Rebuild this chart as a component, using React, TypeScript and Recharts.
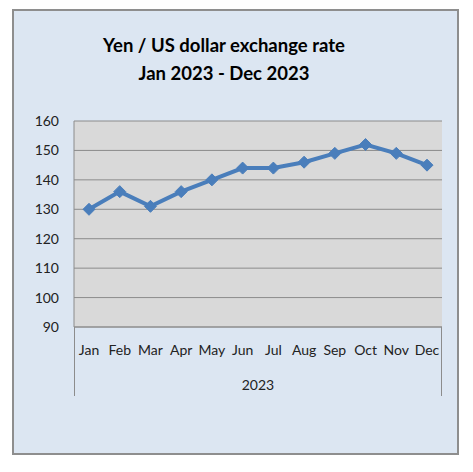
import React from "react";
import { LineChart, Line, XAxis, YAxis, CartesianGrid, Label } from "recharts";

const months = ["Jan", "Feb", "Mar", "Apr", "May", "Jun", "Jul", "Aug", "Sep", "Oct", "Nov", "Dec"];
const rates = [130, 136, 131, 136, 140, 144, 144, 146, 149, 152, 149, 145];
const yTicks = [90, 100, 110, 120, 130, 140, 150, 160];
const titleLines = ["Yen / US dollar exchange rate", "Jan 2023 - Dec 2023"];
const yearLabel = "2023";

const data = months.map((m, i) => ({ month: m, rate: rates[i] }));

const FONT = "Lato, 'Open Sans', sans-serif";
const BLUE = "#4a7ebb";
const GRID = "#8c8c8c";

const Diamond = (props: any) => {
  const { cx, cy } = props;
  if (cx == null || cy == null) return null;
  const r = 6;
  return (
    <polygon
      points={`${cx},${cy - r} ${cx + r},${cy} ${cx},${cy + r} ${cx - r},${cy}`}
      fill={BLUE}
      stroke={BLUE}
      strokeWidth={1}
    />
  );
};

export default function App() {
  return (
    <div
      style={{
        position: "absolute",
        left: 12,
        top: 9,
        width: 447,
        height: 446,
        boxSizing: "border-box",
        border: "2px solid #8e8e8e",
        background: "#dce6f2",
        fontFamily: FONT,
      }}
    >
      <div
        style={{
          position: "absolute",
          left: 0,
          top: 20,
          width: 420,
          textAlign: "center",
          fontWeight: 700,
          fontSize: 18.5,
          lineHeight: "28px",
          color: "#000",
        }}
      >
        {titleLines.map((t) => (
          <div key={t}>{t}</div>
        ))}
      </div>
      <div
        style={{
          position: "absolute",
          left: 60,
          top: 316,
          width: 368,
          height: 69,
          boxSizing: "border-box",
          borderLeft: `1px solid ${GRID}`,
          borderRight: `1px solid ${GRID}`,
        }}
      />
      <LineChart
        width={443}
        height={442}
        data={data}
        margin={{ top: 110, right: 15, bottom: 56, left: 0 }}
      >
        <CartesianGrid
          vertical={false}
          fill="#d9d9d9"
          stroke={GRID}
          strokeWidth={1}
        />
        <XAxis
          dataKey="month"
          height={70}
          padding={{ left: 15, right: 15 }}
          axisLine={{ stroke: GRID }}
          tickLine={false}
          tickMargin={12}
          interval={0}
          tick={{ fontSize: 14, fill: "#222", fontFamily: FONT }}
        >
          <Label
            value={yearLabel}
            position="insideBottom"
            offset={7}
            style={{ fontSize: 14, fill: "#222", fontFamily: FONT }}
          />
        </XAxis>
        <YAxis
          width={60}
          domain={[90, 160]}
          ticks={yTicks}
          interval={0}
          axisLine={{ stroke: GRID }}
          tickLine={false}
          tickMargin={9}
          tick={{ fontSize: 14, fill: "#222", fontFamily: FONT }}
        />
        <Line
          type="linear"
          dataKey="rate"
          stroke={BLUE}
          strokeWidth={4}
          dot={<Diamond />}
          activeDot={false}
          isAnimationActive={false}
        />
      </LineChart>
    </div>
  );
}
